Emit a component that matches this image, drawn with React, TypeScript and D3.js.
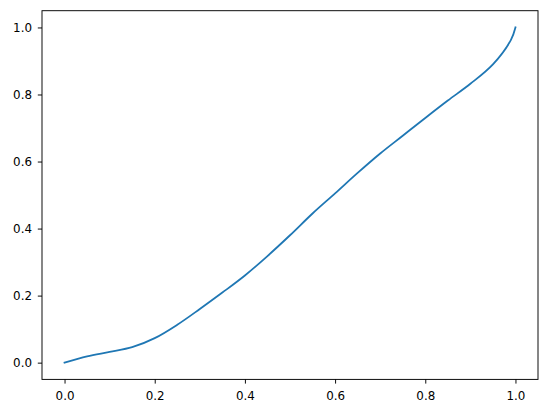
import React, { useEffect, useRef } from "react";
import * as d3 from "d3";

// values
const xValues = [0, 0.05, 0.1, 0.15, 0.2, 0.25, 0.3, 0.35, 0.4, 0.45, 0.5, 0.55, 0.6, 0.65, 0.7, 0.75, 0.8, 0.85, 0.9, 0.95, 0.99, 1.0];
const yValues = [0, 0.019, 0.032, 0.046, 0.073, 0.113, 0.16, 0.209, 0.26, 0.318, 0.38, 0.445, 0.505, 0.566, 0.624, 0.677, 0.73, 0.782, 0.832, 0.89, 0.963, 1.0];
const xTicks = [0, 0.2, 0.4, 0.6, 0.8, 1.0];
const yTicks = [0, 0.2, 0.4, 0.6, 0.8, 1.0];

export default function App() {
  const svgRef = useRef<SVGSVGElement>(null);

  useEffect(() => {
    const width = 547;
    const height = 413;
    const margin = { left: 42, right: 9, top: 10.7, bottom: 33.6 };

    const svg = d3.select(svgRef.current).attr("width", width).attr("height", height);
    svg.selectAll("*").remove();

    const x = d3
      .scaleLinear()
      .domain([-0.05, 1.05])
      .range([margin.left, width - margin.right]);
    const y = d3
      .scaleLinear()
      .domain([-0.05, 1.05])
      .range([height - margin.bottom, margin.top]);

    const font = "DejaVu Sans";
    const fontSize = 11.9;

    const line = d3
      .line<number>()
      .x((d, i) => x(xValues[i]))
      .y((d) => y(d))
      .curve(d3.curveCatmullRom);

    svg
      .append("path")
      .datum(yValues)
      .attr("d", line)
      .attr("fill", "none")
      .attr("stroke", "#1f77b4")
      .attr("stroke-width", 1.8)
      .attr("stroke-linecap", "square");

    const xAxis = svg
      .append("g")
      .attr("transform", `translate(0,${height - margin.bottom})`)
      .call(
        d3
          .axisBottom(x)
          .tickValues(xTicks)
          .tickFormat(d3.format(".1f"))
          .tickSize(4.2)
          .tickPadding(4.2)
      );
    xAxis.selectAll("text").attr("dy", 12.4);

    const yAxis = svg
      .append("g")
      .attr("transform", `translate(${margin.left},0)`)
      .call(
        d3
          .axisLeft(y)
          .tickValues(yTicks)
          .tickFormat(d3.format(".1f"))
          .tickSize(4.2)
          .tickPadding(5.8)
      );

    [xAxis, yAxis].forEach((g) => {
      g.select(".domain").remove();
      g.selectAll("line").attr("stroke", "#000").attr("stroke-width", 0.95);
      g.selectAll("text")
        .attr("font-family", font)
        .attr("font-size", fontSize)
        .attr("fill", "#000");
    });

    svg
      .append("rect")
      .attr("x", margin.left)
      .attr("y", margin.top)
      .attr("width", width - margin.left - margin.right)
      .attr("height", height - margin.top - margin.bottom)
      .attr("fill", "none")
      .attr("stroke", "#000")
      .attr("stroke-width", 0.95);
  }, []);

  return (
    <div style={{ position: "absolute", left: 0, top: 0, background: "#fff" }}>
      <svg ref={svgRef} style={{ display: "block" }}></svg>
    </div>
  );
}
